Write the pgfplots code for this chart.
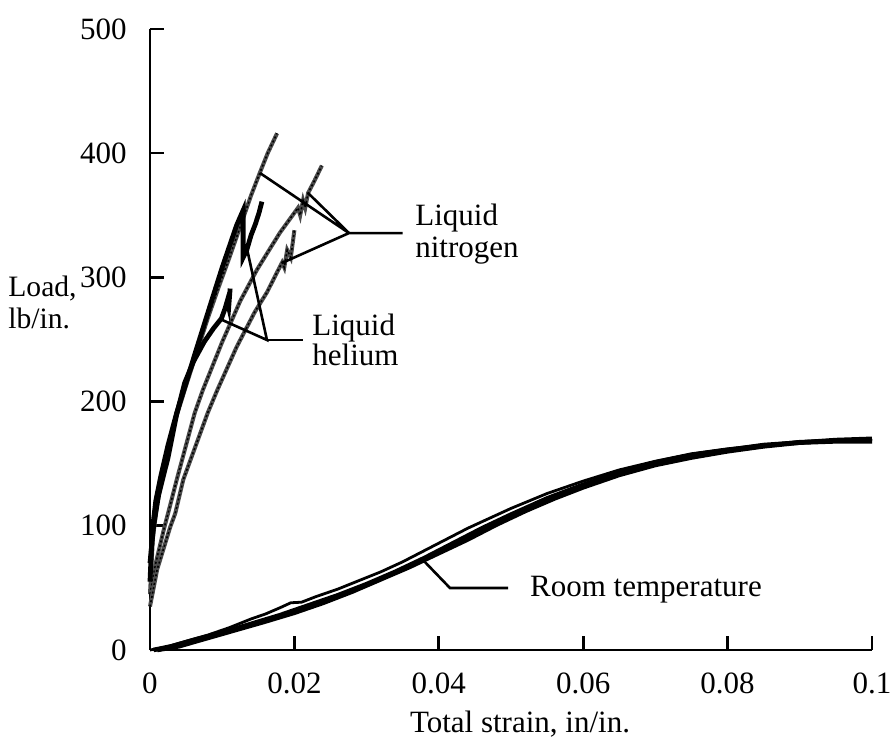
\documentclass[border=0pt]{standalone}
\usepackage{fontspec}
\setmainfont{Liberation Serif}
\usepackage{pgfplots}
\pgfplotsset{compat=1.18}

\begin{document}
\fontsize{15.5pt}{18pt}\selectfont
\begin{tikzpicture}
\path[use as bounding box] (-75pt,-48.5pt) rectangle (370pt,325pt);
\begin{axis}[
    at={(0,0)}, anchor=south west,
    scale only axis, width=361pt, height=310.5pt,
    xmin=0, xmax=0.1, ymin=0, ymax=500,
    axis x line=bottom, axis y line=left,
    axis line style={-, line width=1.3pt},
    tick align=inside, major tick length=7pt,
    tick style={line width=1.3pt, black},
    xtick={0,0.02,0.04,0.06,0.08,0.1},
    xticklabels={0,0.02,0.04,0.06,0.08,0.1},
    ytick={0,100,200,300,400,500},
    /pgf/number format/assume math mode=true,
    xticklabel style={inner sep=0pt, anchor=north, yshift=-11pt},
    yticklabel style={inner sep=0pt, anchor=east, xshift=-11.5pt},
    clip=false,
    cryo/.style={black!70, line width=2pt,
        postaction={draw=black, line width=0.8pt, dash pattern=on 1pt off 1.2pt}},
]

% room temperature
\addplot[black, line width=1.4pt] coordinates {
    (0,0) (0.002,2) (0.005,7) (0.008,12) (0.011,18) (0.014,25) (0.016,29)
    (0.018,34) (0.0195,38) (0.021,38.5) (0.023,43) (0.026,49) (0.029,56)
    (0.032,63) (0.035,71) (0.038,80) (0.041,89) (0.044,98) (0.047,106)
    (0.05,114) (0.055,126) (0.06,136) (0.065,145) (0.07,152) (0.075,158)
    (0.08,162) (0.085,165) (0.09,168) (0.095,169) (0.1,170)
};
\addplot[black, line width=2.3pt] coordinates {
    (0.001,0) (0.004,3) (0.007,8) (0.01,13) (0.013,18) (0.016,23) (0.02,30)
    (0.024,38) (0.028,47) (0.032,57) (0.036,67) (0.04,78) (0.044,89)
    (0.048,101) (0.052,112) (0.056,122) (0.06,131) (0.065,141) (0.07,149)
    (0.075,155) (0.08,160) (0.085,164) (0.09,167) (0.095,168) (0.1,168)
};
\addplot[black, line width=2.3pt] coordinates {
    (0.0005,0) (0.003,3) (0.006,8) (0.01,14) (0.014,21) (0.018,28) (0.022,36)
    (0.026,44) (0.03,53) (0.034,63) (0.038,74) (0.042,86) (0.046,98)
    (0.05,109) (0.055,122) (0.06,133) (0.065,143) (0.07,151) (0.075,157)
    (0.08,161) (0.085,165) (0.09,167) (0.095,169) (0.1,170)
};

% liquid nitrogen
\addplot[cryo] coordinates {
    (0,45) (0.0004,90) (0.001,118) (0.002,148) (0.0035,185) (0.005,213)
    (0.0065,240) (0.008,267) (0.0095,292) (0.011,316) (0.0125,341)
    (0.014,366) (0.0152,384) (0.0163,400) (0.0176,416)
};
\addplot[cryo] coordinates {
    (0,45) (0.0008,70) (0.002,99) (0.0025,110) (0.0037,137) (0.0062,191)
    (0.0073,209) (0.0100,248) (0.0125,281) (0.0148,306) (0.0165,322)
    (0.018,336) (0.0195,348) (0.0205,356) (0.0208,350) (0.0212,362)
    (0.0215,356) (0.0219,368) (0.0228,378) (0.0238,390)
};
\addplot[cryo] coordinates {
    (0,35) (0.001,65) (0.0028,99) (0.0035,110) (0.0046,137) (0.008,191)
    (0.0093,209) (0.012,244) (0.0145,272) (0.0162,288) (0.0175,303)
    (0.0183,312) (0.0186,308) (0.019,322) (0.0195,316) (0.0200,338)
};

% liquid helium
\addplot[black, line width=2.4pt] coordinates {
    (0,55) (0.0003,95) (0.0008,120) (0.0015,140) (0.0025,165) (0.0037,191)
    (0.0050,215) (0.0062,238) (0.0075,262) (0.0088,286) (0.0100,308)
    (0.0110,325) (0.0120,342) (0.0126,350) (0.0129,354) (0.0129,316)
    (0.0134,322) (0.0140,334) (0.0146,343) (0.0151,352) (0.0155,361)
};
\addplot[black, line width=2.4pt] coordinates {
    (0,70) (0.0005,100) (0.0012,125) (0.0025,155) (0.0037,190) (0.0048,215)
    (0.006,232) (0.0075,248) (0.0088,259) (0.0099,267) (0.0104,275)
    (0.0107,281) (0.0109,276) (0.0111,291)
};

% leaders and labels
\draw[line width=1.3pt] (axis cs:0.01524,384) -- (axis cs:0.02756,335.7)
    -- (axis cs:0.02188,368);
\draw[line width=1.3pt] (axis cs:0.01828,311.6) -- (axis cs:0.02756,335.7)
    -- (axis cs:0.035,335.7);
\node[anchor=base west, inner sep=0pt] at (axis cs:0.0367,341.4) {Liquid};
\node[anchor=base west, inner sep=0pt] at (axis cs:0.0367,316.4) {nitrogen};

\draw[line width=1.3pt] (axis cs:0.0099,266) -- (axis cs:0.0162,249.6)
    -- (axis cs:0.0134,324);
\draw[line width=1.3pt] (axis cs:0.0162,249.6) -- (axis cs:0.0212,249.6);
\node[anchor=base west, inner sep=0pt] at (axis cs:0.02244,253.6) {Liquid};
\node[anchor=base west, inner sep=0pt] at (axis cs:0.02244,228.7) {helium};

\draw[line width=1.3pt] (axis cs:0.0378,72.5) -- (axis cs:0.04155,49.9)
    -- (axis cs:0.0496,49.9);
\node[anchor=base west, inner sep=0pt] at (axis cs:0.0526,42.7) {Room temperature};

\node[anchor=base west, inner sep=0pt, xshift=-71pt, font=\fontsize{14.8pt}{16pt}\selectfont]
    at (axis cs:0,285) {Load,};
\node[anchor=base west, inner sep=0pt, xshift=-71pt, font=\fontsize{14.8pt}{16pt}\selectfont]
    at (axis cs:0,259) {lb/in.};

\node[anchor=base, inner sep=0pt, yshift=-41.5pt] at (axis cs:0.05125,0) {Total strain, in/in.};
\end{axis}
\end{tikzpicture}
\end{document}
